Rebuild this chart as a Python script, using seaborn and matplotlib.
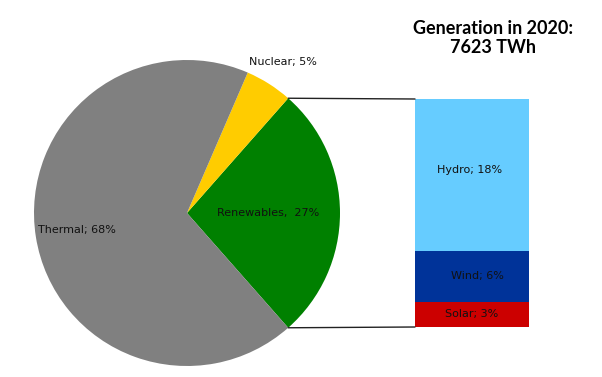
import numpy as np
import pandas as pd
import matplotlib
matplotlib.use("Agg")
import matplotlib.pyplot as plt
from matplotlib.patches import ConnectionPatch
import seaborn as sns

# Data
pie_labels = ["Renewables", "Nuclear", "Thermal"]
pie_values = [27, 5, 68]
pie_colors = ["#008000", "#FFCC00", "#808080"]

bar_labels = ["Solar", "Wind", "Hydro"]
bar_values = [3, 6, 18]
bar_colors = ["#CC0000", "#003399", "#66CCFF"]

title_text = "Generation in 2020:\n7623 TWh"

sns.set_theme(style="white")
plt.rcParams["font.family"] = ["DejaVu Sans"]

fig = plt.figure(figsize=(6.02, 3.77), dpi=100)
fig.patch.set_facecolor("white")

W, H = 602, 377
def axpos(l, t, r, b):
    return [l / W, (H - b) / H, (r - l) / W, (b - t) / H]

ax_pie = fig.add_axes(axpos(34, 60, 340, 366))
ax_bar = fig.add_axes(axpos(415, 99, 529, 327))

# Pie
start = -pie_values[0] / sum(pie_values) * 360 / 2
wedges, _ = ax_pie.pie(pie_values, colors=pie_colors, startangle=start,
                       counterclock=True, radius=1,
                       wedgeprops=dict(linewidth=0))
ax_pie.set_xlim(-1, 1)
ax_pie.set_ylim(-1, 1)
ax_pie.set_aspect("equal")
ax_pie.axis("off")

label_dist = {"Renewables": 0.53, "Nuclear": 1.17, "Thermal": 0.73}
seps = {"Renewables": ",  ", "Nuclear": "; ", "Thermal": "; "}
total = sum(pie_values)
fs = 8
for w, lab, v in zip(wedges, pie_labels, pie_values):
    ang = np.deg2rad((w.theta1 + w.theta2) / 2)
    d = label_dist[lab]
    ax_pie.text(d * np.cos(ang), d * np.sin(ang),
                f"{lab}{seps[lab]}{round(v / total * 100)}%",
                ha="center", va="center", fontsize=fs, color="#111111")

# Stacked bar
label_frac = {"Solar": 0.5, "Wind": 0.5, "Hydro": 0.53}
label_dx = {"Solar": 0.0, "Wind": 0.05, "Hydro": -0.02}
bottom = 0
for lab, v, c in zip(bar_labels, bar_values, bar_colors):
    ax_bar.bar(0, v, bottom=bottom, width=1.0, color=c, linewidth=0)
    ax_bar.text(label_dx[lab], bottom + v * label_frac[lab], f"{lab}; {v}%",
                ha="center", va="center", fontsize=fs, color="#111111")
    bottom += v
ax_bar.set_xlim(-0.5, 0.5)
ax_bar.set_ylim(0, sum(bar_values))
ax_bar.axis("off")

# Connection lines
w = wedges[0]
for theta, yb in [(w.theta2, sum(bar_values)), (w.theta1, 0)]:
    t = np.deg2rad(theta)
    con = ConnectionPatch(xyA=(-0.5, yb), coordsA=ax_bar.transData,
                          xyB=(np.cos(t), np.sin(t)), coordsB=ax_pie.transData,
                          color="#222222", linewidth=1)
    fig.add_artist(con)

fig.text(493 / W, 1 - 38 / H, title_text, ha="center", va="center",
         fontsize=13, fontweight="bold", family=["Lato", "DejaVu Sans"],
         linespacing=1.2, color="black")

fig.savefig("out.png", dpi=100, facecolor="white")
